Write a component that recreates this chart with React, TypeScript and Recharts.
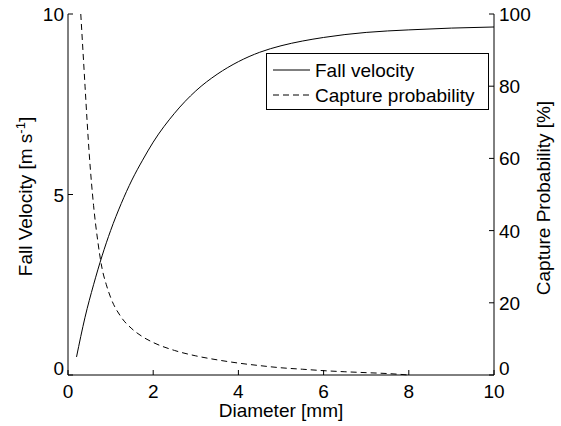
import React from 'react';
import { LineChart, Line, XAxis, YAxis, Legend, Label } from 'recharts';

const FONT = '"Liberation Sans", Arial, Helvetica, sans-serif';
const FS = 19;

// Data
const velocityDiameters = [0.2, 0.4, 0.6, 0.8, 1.0, 1.25, 1.5, 1.75, 2, 2.5, 3, 3.5, 4, 4.5, 5, 5.5, 6, 6.5, 7, 8, 9, 10];
const velocities = [0.5, 1.6, 2.5, 3.3, 4.0, 4.75, 5.4, 5.95, 6.45, 7.25, 7.87, 8.33, 8.68, 8.94, 9.12, 9.25, 9.35, 9.43, 9.49, 9.56, 9.61, 9.64];

const captureDiameters = [0.3, 0.35, 0.4, 0.45, 0.5, 0.6, 0.7, 0.8, 0.9, 1.0, 1.25, 1.5, 1.75, 2, 2.5, 3, 3.5, 4, 4.5, 5, 5.5, 6, 6.5, 7, 7.5, 8];
const captures = [100, 90, 80, 70, 61, 47, 37, 29.5, 25, 21.5, 16, 12.8, 10.6, 9, 6.8, 5.3, 4.2, 3.3, 2.6, 2.0, 1.6, 1.2, 0.9, 0.65, 0.4, 0];

const xTicks = [0, 2, 4, 6, 8, 10];
const leftTicks = [0, 5, 10];
const rightTicks = [0, 20, 40, 60, 80, 100];

const seriesNames = ['Fall velocity', 'Capture probability'];
const xTitle = 'Diameter [mm]';
const rightTitle = 'Capture Probability [%]';

const velocityData = velocityDiameters.map((d, i) => ({ d, v: velocities[i] }));
const captureData = captureDiameters.map((d, i) => ({ d, p: captures[i] }));

const DASH = '6 4';

const BottomTick = (props: any) => {
  const { x, y, payload } = props;
  return (
    <g>
      <line x1={x} y1={y} x2={x} y2={y - 5} stroke="#000" />
      <text x={x} y={y + 23} textAnchor="middle" fontSize={FS} fontFamily={FONT} fill="#000">
        {payload.value}
      </text>
    </g>
  );
};

const TopTick = (props: any) => {
  const { x, y } = props;
  return <line x1={x} y1={y} x2={x} y2={y + 5} stroke="#000" />;
};

const LeftTick = (props: any) => {
  const { x, y, payload } = props;
  const shift = payload.value === 0 ? -7 : 0;
  return (
    <g>
      <line x1={x} y1={y} x2={x + 5} y2={y} stroke="#000" />
      <text x={x - 4} y={y + 7 + shift} textAnchor="end" fontSize={FS} fontFamily={FONT} fill="#000">
        {payload.value}
      </text>
    </g>
  );
};

const RightTick = (props: any) => {
  const { x, y, payload } = props;
  const shift = payload.value === 0 ? -7 : 0;
  return (
    <g>
      <line x1={x} y1={y} x2={x - 5} y2={y} stroke="#000" />
      <text x={x + 5} y={y + 7 + shift} textAnchor="start" fontSize={FS} fontFamily={FONT} fill="#000">
        {payload.value}
      </text>
    </g>
  );
};

const XTitle = (props: any) => {
  const vb = props.viewBox || {};
  return (
    <text x={vb.x + vb.width / 2} y={vb.y + 42} textAnchor="middle" fontSize={FS} fontFamily={FONT} fill="#000">
      {xTitle}
    </text>
  );
};

const LeftTitle = (props: any) => {
  const vb = props.viewBox || {};
  const cx = vb.x + 32;
  const cy = vb.y + vb.height / 2 + 2;
  return (
    <text x={cx} y={cy} transform={`rotate(-90, ${cx}, ${cy})`} textAnchor="middle" fontSize={FS} fontFamily={FONT} fill="#000">
      <tspan>Fall Velocity [m s</tspan>
      <tspan dy={-7} fontSize={13}>-1</tspan>
      <tspan dy={7}>]</tspan>
    </text>
  );
};

const RightTitle = (props: any) => {
  const vb = props.viewBox || {};
  const cx = vb.x + 56;
  const cy = vb.y + vb.height / 2 + 3.5;
  return (
    <text x={cx} y={cy} transform={`rotate(-90, ${cx}, ${cy})`} textAnchor="middle" fontSize={FS} fontFamily={FONT} fill="#000">
      {rightTitle}
    </text>
  );
};

const LegendBox = () => (
  <svg width={223} height={57} style={{ display: 'block' }}>
    <rect x={0.5} y={0.5} width={222} height={56} fill="#fff" stroke="#000" />
    {seriesNames.map((name: string, i: number) => {
      const cy = 17 + i * 25;
      const dashed = i === 1;
      return (
        <g key={name}>
          <line x1={7} x2={44} y1={cy} y2={cy} stroke="#000" strokeDasharray={dashed ? DASH : undefined} />
          <text x={49} y={cy + 7} fontSize={FS} fontFamily={FONT} fill="#000">{name}</text>
        </g>
      );
    })}
  </svg>
);

export default function App() {
  return (
    <div style={{ position: 'absolute', left: 0, top: 0, width: 561, height: 426, background: '#fff' }}>
      <LineChart width={561} height={426} margin={{ top: 14, right: 0, bottom: 0, left: 0 }}>
        <XAxis
          xAxisId="bottom"
          dataKey="d"
          type="number"
          domain={[0, 10]}
          ticks={xTicks}
          interval={0}
          height={51}
          tickSize={0}
          tickMargin={0}
          tickLine={false}
          tick={<BottomTick />}
          axisLine={{ stroke: '#000' }}
        >
          <Label content={XTitle} />
        </XAxis>
        <XAxis
          xAxisId="top"
          orientation="top"
          dataKey="d"
          type="number"
          domain={[0, 10]}
          ticks={xTicks}
          interval={0}
          height={0}
          tickSize={0}
          tickMargin={0}
          tickLine={false}
          tick={<TopTick />}
          axisLine={{ stroke: '#000' }}
        />
        <YAxis
          yAxisId="left"
          type="number"
          domain={[0, 10]}
          ticks={leftTicks}
          interval={0}
          width={68}
          tickSize={0}
          tickMargin={0}
          tickLine={false}
          tick={<LeftTick />}
          axisLine={{ stroke: '#000' }}
        >
          <Label content={LeftTitle} />
        </YAxis>
        <YAxis
          yAxisId="right"
          orientation="right"
          type="number"
          domain={[0, 100]}
          ticks={rightTicks}
          interval={0}
          width={67}
          tickSize={0}
          tickMargin={0}
          tickLine={false}
          tick={<RightTick />}
          axisLine={{ stroke: '#000' }}
        >
          <Label content={RightTitle} />
        </YAxis>
        <Line
          xAxisId="bottom"
          yAxisId="left"
          data={velocityData}
          dataKey="v"
          name={seriesNames[0]}
          type="monotone"
          stroke="#000"
          strokeWidth={1}
          dot={false}
          activeDot={false}
          isAnimationActive={false}
        />
        <Line
          xAxisId="bottom"
          yAxisId="right"
          data={captureData}
          dataKey="p"
          name={seriesNames[1]}
          type="monotone"
          stroke="#000"
          strokeWidth={1}
          strokeDasharray={DASH}
          dot={false}
          activeDot={false}
          isAnimationActive={false}
        />
        <Legend
          layout="vertical"
          align="center"
          verticalAlign="middle"
          content={<LegendBox />}
          wrapperStyle={{ left: 266, top: 53, width: 223, height: 57 }}
        />
      </LineChart>
    </div>
  );
}
